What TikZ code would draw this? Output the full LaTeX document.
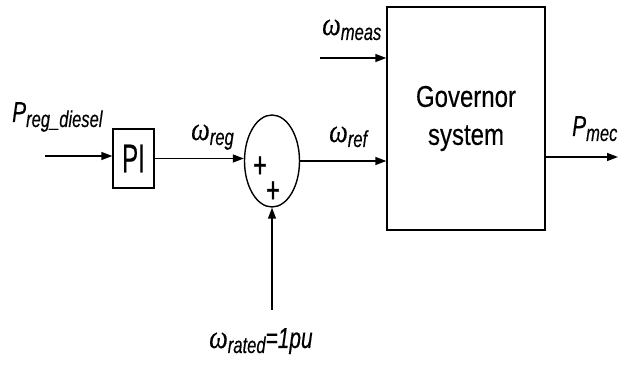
\documentclass[tikz,border=0pt]{standalone}
\usepackage{fontspec}
\setmainfont{Liberation Sans}
\newfontfamily\labfont{Liberation Sans}[FakeStretch=0.72,FakeBold=0.3]
\newfontfamily\govfont{Liberation Sans}[FakeStretch=0.8,FakeBold=0.3]
\newfontfamily\omfont{Liberation Serif}[FakeStretch=0.8,FakeBold=0.3]
\newfontfamily\pifont{Liberation Sans}[FakeStretch=0.6,FakeBold=0.3]
\newfontfamily\plusfont{Liberation Sans}[FakeStretch=0.65,FakeBold=1]
\usetikzlibrary{shapes.geometric,arrows.meta}
\newcommand{\myom}{{\omfont\itshape\fontsize{33}{33}\selectfont\symbol{"03C9}}}
\newcommand{\mysub}[1]{\raisebox{-5pt}{\labfont\itshape\fontsize{23}{23}\selectfont #1}}
\tikzset{
  lw/.style={line width=1.4pt},
  arr/.style={lw,-{Triangle[length=11pt,width=8pt]}},
  lab/.style={anchor=base west, inner sep=0pt, font={\labfont\itshape\fontsize{29}{30}\selectfont}},
  blk/.style={draw, lw, inner sep=0pt},
  plus/.style={inner sep=0pt, font={\plusfont\fontsize{36}{36}\selectfont}}
}
\begin{document}
\begin{tikzpicture}[x=1pt,y=-1pt]
\useasboundingbox (0,0) rectangle (619,366);
% blocks
\node[blk, minimum width=41pt, minimum height=59pt, font={\pifont\fontsize{40}{40}\selectfont}] (pi) at (133.5,158.5) {PI};
\node[blk, ellipse, minimum width=55pt, minimum height=92pt] (sum) at (272,161) {};
\node[plus] (p1) at (260,167) {+};
\node[plus] (p2) at (273,192) {+};
\node[blk, minimum width=158pt, minimum height=223pt, align=center, font={\govfont\fontsize{30}{38}\selectfont}] (gov) at (466,118.5) {Governor\\system};
% free ends
\coordinate (in) at (45,156);
\coordinate (meas) at (320,58);
\coordinate (out) at (618,157);
\coordinate (rated) at (272,310);
% connectors
\draw[arr] (in) -- (in -| pi.west);
\draw[arr] (pi.east) -- (pi.east -| sum.west);
\draw[arr] (sum.east) -- (sum.east -| gov.west);
\draw[arr] (meas) -- (meas -| gov.west);
\draw[arr] (out -| gov.east) -- (out);
\draw[arr] (rated) -- (sum.south);
% labels
\node[lab] (lpreg) at (12,122) {P\mysub{reg\_diesel}};
\node[lab] (lwreg) at (191,140) {\myom\mysub{reg}};
\node[lab] (lwref) at (329,142) {\myom\mysub{ref}};
\node[lab] (lwmeas) at (322,35) {\myom\mysub{meas}};
\node[lab] (lpmec) at (572,136) {P\mysub{mec}};
\node[lab] (lrated) at (209,348) {\myom\mysub{rated}=1pu};
\end{tikzpicture}
\end{document}
